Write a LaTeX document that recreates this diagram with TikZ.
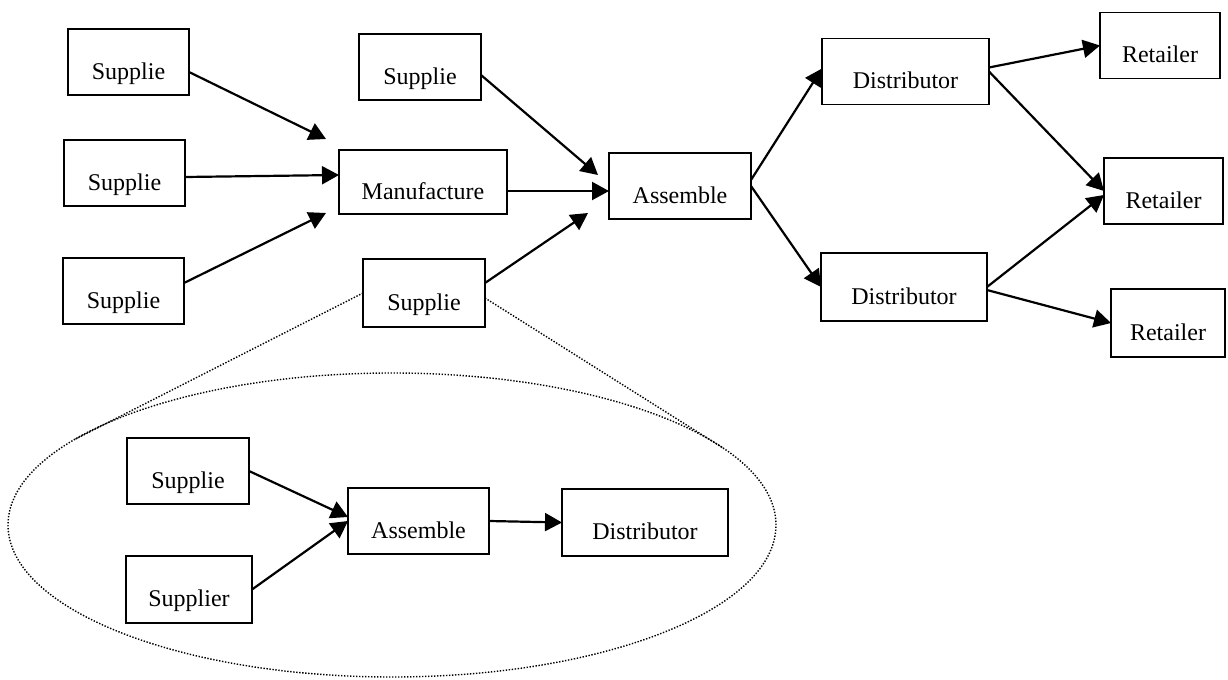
\documentclass[tikz,border=0pt]{standalone}
\usepackage{fontspec}
\setmainfont{Liberation Serif}
\usetikzlibrary{shapes.geometric,arrows.meta}

\begin{document}
\begin{tikzpicture}[x=0.5pt, y=-0.5pt,
    stage/.style={draw, line width=0.9pt, minimum height=33pt, inner sep=0pt, outer sep=0pt,
                  text height=20pt, text depth=3pt, font=\fontsize{12}{14}\selectfont},
    flow/.style={-{Triangle[length=8.5pt,width=9pt]}, line width=1.1pt},
    zoomline/.style={line width=0.7pt, dash pattern=on 0.7pt off 0.8pt}]
    \useasboundingbox (0,0) rectangle (1228,680);

    % upstream suppliers and manufacturer
    \node[stage, minimum width=60.5pt] (sup1) at (128.5, 62)  {Supplie};
    \node[stage, minimum width=60.5pt] (sup2) at (124.5, 173) {Supplie};
    \node[stage, minimum width=60.5pt] (sup3) at (123.5, 291) {Supplie};
    \node[stage, minimum width=84pt, minimum height=32pt] (manu) at (423, 182) {Manufacture};
    \node[stage, minimum width=61pt] (sup4) at (420, 67)  {Supplie};
    \node[stage, minimum width=61pt, minimum height=34pt] (sup5) at (424, 293) {Supplie};

    % assembly and distribution
    \node[stage, minimum width=71pt] (asm)  at (680, 186)    {Assemble};
    \node[stage, minimum width=83.5pt] (dis1) at (905.5, 71.5) {Distributor};
    \node[stage, minimum width=83pt, minimum height=34pt] (dis2) at (904, 287) {Distributor};
    \node[stage, minimum width=60pt] (ret1) at (1160, 45.5)  {Retailer};
    \node[stage, minimum width=59.5pt] (ret2) at (1163.5, 191) {Retailer};
    \node[stage, minimum width=57pt, minimum height=34pt] (ret3) at (1168, 323) {Retailer};

    \draw[flow] ([yshift=-5pt]sup1.east) -- ([shift={(-13,-11)}]manu.north west);
    \draw[flow] ([yshift=-2pt]sup2.east) -- ([yshift=3.5pt]manu.west);
    \draw[flow] ([yshift=4pt]sup3.east) -- ([shift={(-13,-1)}]manu.south west);
    \draw[flow] ([yshift=-4pt]sup4.east) -- ([shift={(-11,-11)}]asm.west);
    \draw[flow] ([yshift=-4.5pt]manu.east) -- ([yshift=-2.5pt]asm.west);
    \draw[flow] ([yshift=5pt]sup5.east) -- ([shift={(-21,-6)}]asm.south west);
    \draw[flow] ([yshift=3pt]asm.east) -- ([yshift=1.5pt]dis1.west);
    \draw[flow] (asm.east) -- (dis2.west);
    \draw[flow] ([yshift=2pt]dis1.east) -- (ret1.west);
    \draw[flow] (dis1.east) -- (ret2.west);
    \draw[flow] (dis2.east) -- ([yshift=-2pt]ret2.west);
    \draw[flow] ([yshift=-1.5pt]dis2.east) -- (ret3.west);

    % detail of the lower supplier
    \node[draw, zoomline, ellipse, minimum width=384pt, minimum height=152pt,
          inner sep=0pt, outer sep=0pt] (detail) at (392, 525) {};
    \draw[zoomline] (sup5.west) -- (detail.165);
    \draw[zoomline] ([yshift=-2.5pt]sup5.east) -- (detail.13);

    \node[stage, minimum width=61pt] (isup1) at (188, 471) {Supplie};
    \node[stage, minimum width=63pt, minimum height=33.5pt] (isup2) at (189, 589.5) {Supplier};
    \node[stage, minimum width=70.5pt] (iasm) at (418.5, 521) {Assemble};
    \node[stage, minimum width=83pt, minimum height=33.5pt] (idis) at (645, 522.5) {Distributor};

    \draw[flow] (isup1.east) -- ([yshift=2pt]iasm.west);
    \draw[flow] (isup2.east) -- (iasm.west);
    \draw[flow] (iasm.east) -- (idis.west);
\end{tikzpicture}
\end{document}
